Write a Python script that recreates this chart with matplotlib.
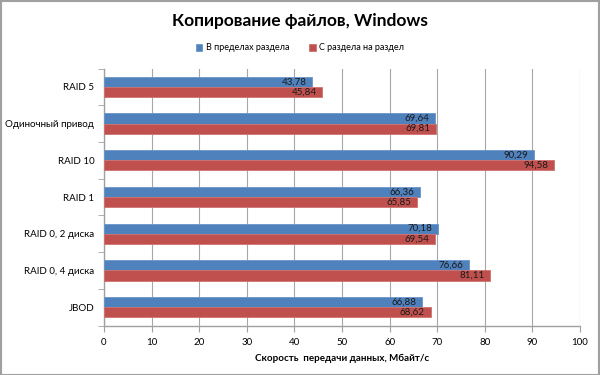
import matplotlib
matplotlib.use("Agg")
import matplotlib.pyplot as plt
import numpy as np
from matplotlib.patches import Rectangle

categories = ["RAID 5", "Одиночный привод", "RAID 10", "RAID 1",
              "RAID 0, 2 диска", "RAID 0, 4 диска", "JBOD"]
within = [43.78, 69.64, 90.29, 66.36, 70.18, 76.66, 66.88]
between = [45.84, 69.81, 94.58, 65.85, 69.54, 81.11, 68.62]
series_names = ["В пределах раздела", "С раздела на раздел"]
xticks = list(range(0, 101, 10))

plt.rcParams['font.family'] = ['Lato', 'DejaVu Sans']

fig = plt.figure(figsize=(6, 3.75), dpi=100)
fig.patch.set_facecolor("white")
fig.add_artist(Rectangle((0.001, 0.001), 0.997, 0.996, transform=fig.transFigure,
                         fill=False, edgecolor="#a0a0a0", lw=1.5))

ax = fig.add_axes([0.1733, 0.132, 0.7934, 0.6853])
y = np.arange(len(categories))
h = 0.275
blue = "#4F81BD"
red = "#C0504D"
b1 = ax.barh(y - h / 2, within, height=h, color=blue, edgecolor="#6b95c8", lw=0.6,
             label=series_names[0], zorder=3)
b2 = ax.barh(y + h / 2, between, height=h, color=red, edgecolor="#d07270", lw=0.6,
             label=series_names[1], zorder=3)

for bars, vals in ((b1, within), (b2, between)):
    for rect, v in zip(bars, vals):
        ax.text(v - 1.2, rect.get_y() + rect.get_height() / 2,
                f"{v:.2f}".replace(".", ","), ha="right", va="center",
                fontsize=7, color="#1a1a1a", zorder=4)

ax.set_xlim(0, 100)
ax.set_ylim(len(categories) - 0.5, -0.5)
ax.set_xticks(xticks)
ax.set_xticklabels([str(t) for t in xticks], fontsize=7)
ax.set_yticks(y)
ax.set_yticklabels(categories, fontsize=7)
ax.tick_params(axis="y", length=0, pad=7)
ax.tick_params(axis="x", length=4, color="#a0a0a0", pad=5)
ax.set_yticks(np.arange(-0.5, len(categories), 1), minor=True)
ax.tick_params(axis="y", which="minor", length=4, color="#a0a0a0")
ax.grid(axis="x", color="#a6a6a6", lw=0.8, zorder=0)
for s in ("top", "right"):
    ax.spines[s].set_visible(False)
for s in ("left", "bottom"):
    ax.spines[s].set_color("#a0a0a0")
    ax.spines[s].set_linewidth(1.0)

ax.set_xlabel("Скорость  передачи данных, Мбайт/с", fontsize=7, fontweight="bold",
              labelpad=5)

fig.text(0.5, 0.944, "Копирование файлов, Windows", ha="center", va="center",
         fontsize=12.5, fontweight="bold")
fig.legend(handles=[b1, b2], labels=series_names, loc="center", ncol=2,
           bbox_to_anchor=(0.5, 0.872), frameon=False, fontsize=6.5,
           handlelength=0.7, handleheight=0.7, columnspacing=2.2, handletextpad=0.4)

fig.savefig("out.png", dpi=100, facecolor="white")
